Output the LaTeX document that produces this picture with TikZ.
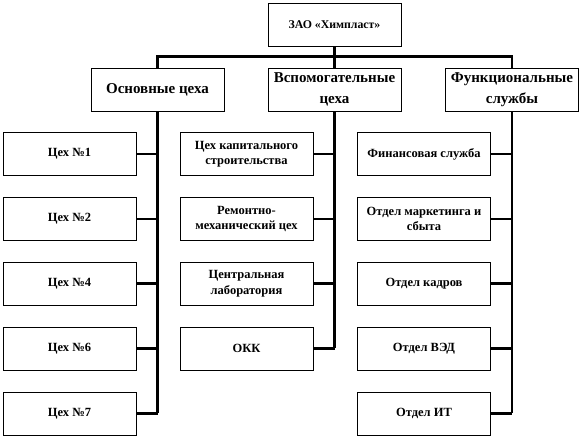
\documentclass[tikz,border=0pt]{standalone}
\usepackage{fontspec}
\setmainfont{Liberation Serif}
\usepackage{tikz}
\tikzstyle{top box}=[draw, fill=white, line width=0.8pt, inner sep=0pt, minimum width=133pt, minimum height=43pt, align=center, font=\bfseries\fontsize{11.8}{14}\selectfont]
\tikzstyle{group box}=[draw, fill=white, line width=0.8pt, inner sep=0pt, minimum width=133pt, minimum height=43pt, align=center, font=\bfseries\fontsize{15}{21.5}\selectfont]
\tikzstyle{unit box}=[draw, fill=white, line width=0.8pt, inner sep=0pt, minimum width=133pt, minimum height=43pt, align=center, font=\bfseries\fontsize{12.5}{15.5}\selectfont]
\tikzstyle{basic line}=[line width=2.8pt]

\begin{document}
\begin{tikzpicture}[x=1pt, y=-1pt]
		\useasboundingbox (0, 0) rectangle (582, 438);

		\node [style=top box]   (0) at (334.5, 24.5) {ЗАО «Химпласт»};
		\node [style=group box] (1) at (157.5, 89.5) {Основные цеха};
		\node [style=group box] (2) at (334.5, 89.5) {Вспомогательные\\цеха};
		\node [style=group box] (3) at (512, 89.5) {Функциональные\\службы};

		\node [style=unit box]  (4) at (69.5, 154) {Цех №1};
		\node [style=unit box]  (5) at (69.5, 219) {Цех №2};
		\node [style=unit box]  (6) at (69.5, 283.5) {Цех №4};
		\node [style=unit box]  (7) at (69.5, 348.5) {Цех №6};
		\node [style=unit box]  (8) at (69.5, 413.5) {Цех №7};

		\node [style=unit box]  (9) at (246.5, 154) {Цех капитального\\строительства};
		\node [style=unit box]  (10) at (246.5, 219) {Ремонтно-\\механический цех};
		\node [style=unit box]  (11) at (246.5, 283.5) {Центральная\\лаборатория};
		\node [style=unit box]  (12) at (246.5, 348.5) {ОКК};

		\node [style=unit box]  (13) at (424, 154) {Финансовая служба};
		\node [style=unit box]  (14) at (424, 219) {Отдел маркетинга и\\сбыта};
		\node [style=unit box]  (15) at (424, 283.5) {Отдел кадров};
		\node [style=unit box]  (16) at (424, 348.5) {Отдел ВЭД};
		\node [style=unit box]  (17) at (424, 413.5) {Отдел ИТ};

		\draw [style=basic line] (0.south) to (2.north);
		\draw [style=basic line] (1.north) -- ++(0, -11) -| (3.north);

		\draw [style=basic line] (1.south) -- (1.south |- 8.east);
		\draw [style=basic line] (4.east) -- (4.east -| 1.south);
		\draw [style=basic line] (5.east) -- (5.east -| 1.south);
		\draw [style=basic line] (6.east) -- (6.east -| 1.south);
		\draw [style=basic line] (7.east) -- (7.east -| 1.south);
		\draw [style=basic line] (8.east) -- (8.east -| 1.south);

		\draw [style=basic line] (2.south) -- (2.south |- 12.east);
		\draw [style=basic line] (9.east) -- (9.east -| 2.south);
		\draw [style=basic line] (10.east) -- (10.east -| 2.south);
		\draw [style=basic line] (11.east) -- (11.east -| 2.south);
		\draw [style=basic line] (12.east) -- (12.east -| 2.south);

		\draw [style=basic line] (3.south) -- (3.south |- 17.east);
		\draw [style=basic line] (13.east) -- (13.east -| 3.south);
		\draw [style=basic line] (14.east) -- (14.east -| 3.south);
		\draw [style=basic line] (15.east) -- (15.east -| 3.south);
		\draw [style=basic line] (16.east) -- (16.east -| 3.south);
		\draw [style=basic line] (17.east) -- (17.east -| 3.south);

\end{tikzpicture}
\end{document}
